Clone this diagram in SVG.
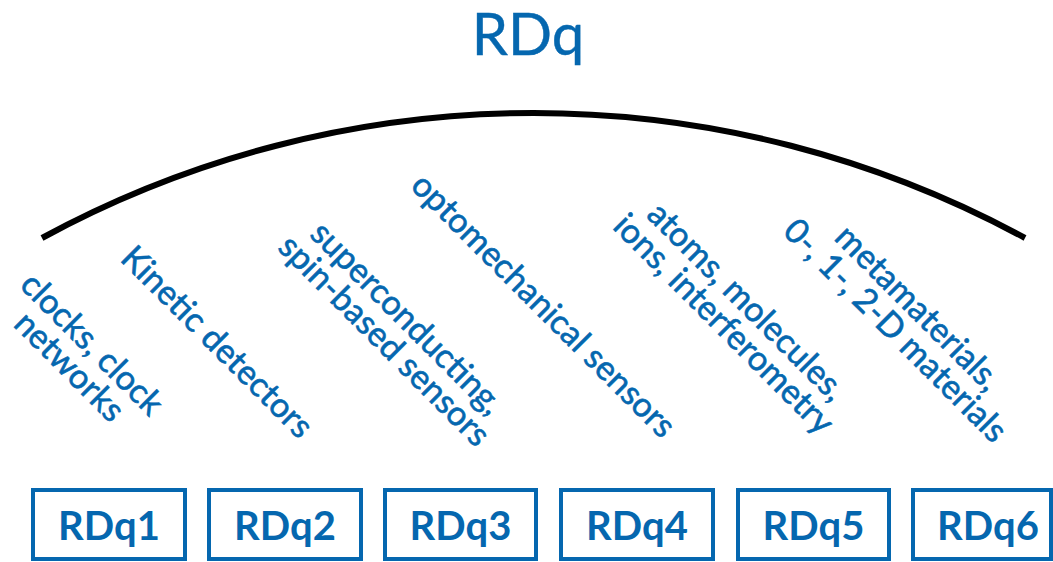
<svg xmlns="http://www.w3.org/2000/svg" width="1053" height="562" viewBox="0 0 1053 562">
  <style>
    .title { font-family: Lato, "Open Sans", sans-serif; font-size: 58px; fill: #0567AF; stroke: #0567AF; stroke-width: 0.4; text-anchor: middle; }
    .lbl { font-family: Lato, "Open Sans", sans-serif; font-size: 34px; fill: #0567AF; stroke: #0567AF; stroke-width: 0.6; text-anchor: middle; }
    .box rect { fill: #ffffff; stroke: #0567AF; stroke-width: 4; }
    .box text { font-family: Lato, "Open Sans", sans-serif; font-size: 40px; font-weight: bold; fill: #0567AF; text-anchor: middle; }
    .arc { fill: none; stroke: #000000; stroke-width: 6; }
  </style>
  <rect width="1053" height="562" fill="#ffffff"/>

  <!-- heading -->
  <text id="title" class="title" x="528" y="55">RDq</text>

  <!-- umbrella arc spanning all work packages -->
  <g id="connectors">
    <path class="arc" d="M42,238 A1029,1029 0 0 1 1025,238"/>
  </g>

  <!-- topic labels, rotated 45 degrees -->
  <g id="topics">
    <text class="lbl" transform="translate(84,352) rotate(45)"><tspan x="0" y="0">clocks, clock</tspan><tspan x="0" dy="32">networks</tspan></text>
    <text class="lbl" transform="translate(209,350) rotate(45)">Kinetic detectors</text>
    <text class="lbl" transform="translate(399,326) rotate(45)"><tspan x="0" y="0">superconducting,</tspan><tspan x="0" dy="32">spin-based sensors</tspan></text>
    <text class="lbl" transform="translate(535.5,313.5) rotate(45)">optomechanical sensors</text>
    <text class="lbl" transform="translate(738.5,309.5) rotate(45)"><tspan x="0" y="0">atoms, molecules,</tspan><tspan x="0" dy="32">ions, interferometry</tspan></text>
    <text class="lbl" transform="translate(910,316) rotate(45)"><tspan x="0" y="0">metamaterials,</tspan><tspan x="0" dy="32">0-, 1-, 2-D materials</tspan></text>
  </g>

  <!-- work package boxes -->
  <g id="RDq1" class="box"><rect x="33" y="490" width="152" height="69"/><text x="109" y="540">RDq1</text></g>
  <g id="RDq2" class="box"><rect x="209" y="490" width="152" height="69"/><text x="285" y="540">RDq2</text></g>
  <g id="RDq3" class="box"><rect x="385" y="490" width="151" height="69"/><text x="460.5" y="540">RDq3</text></g>
  <g id="RDq4" class="box"><rect x="561" y="490" width="152" height="69"/><text x="637" y="540">RDq4</text></g>
  <g id="RDq5" class="box"><rect x="738" y="490" width="151" height="69"/><text x="813.5" y="540">RDq5</text></g>
  <g id="RDq6" class="box"><rect x="913" y="490" width="138" height="69"/><text x="988" y="540">RDq6</text></g>
</svg>
